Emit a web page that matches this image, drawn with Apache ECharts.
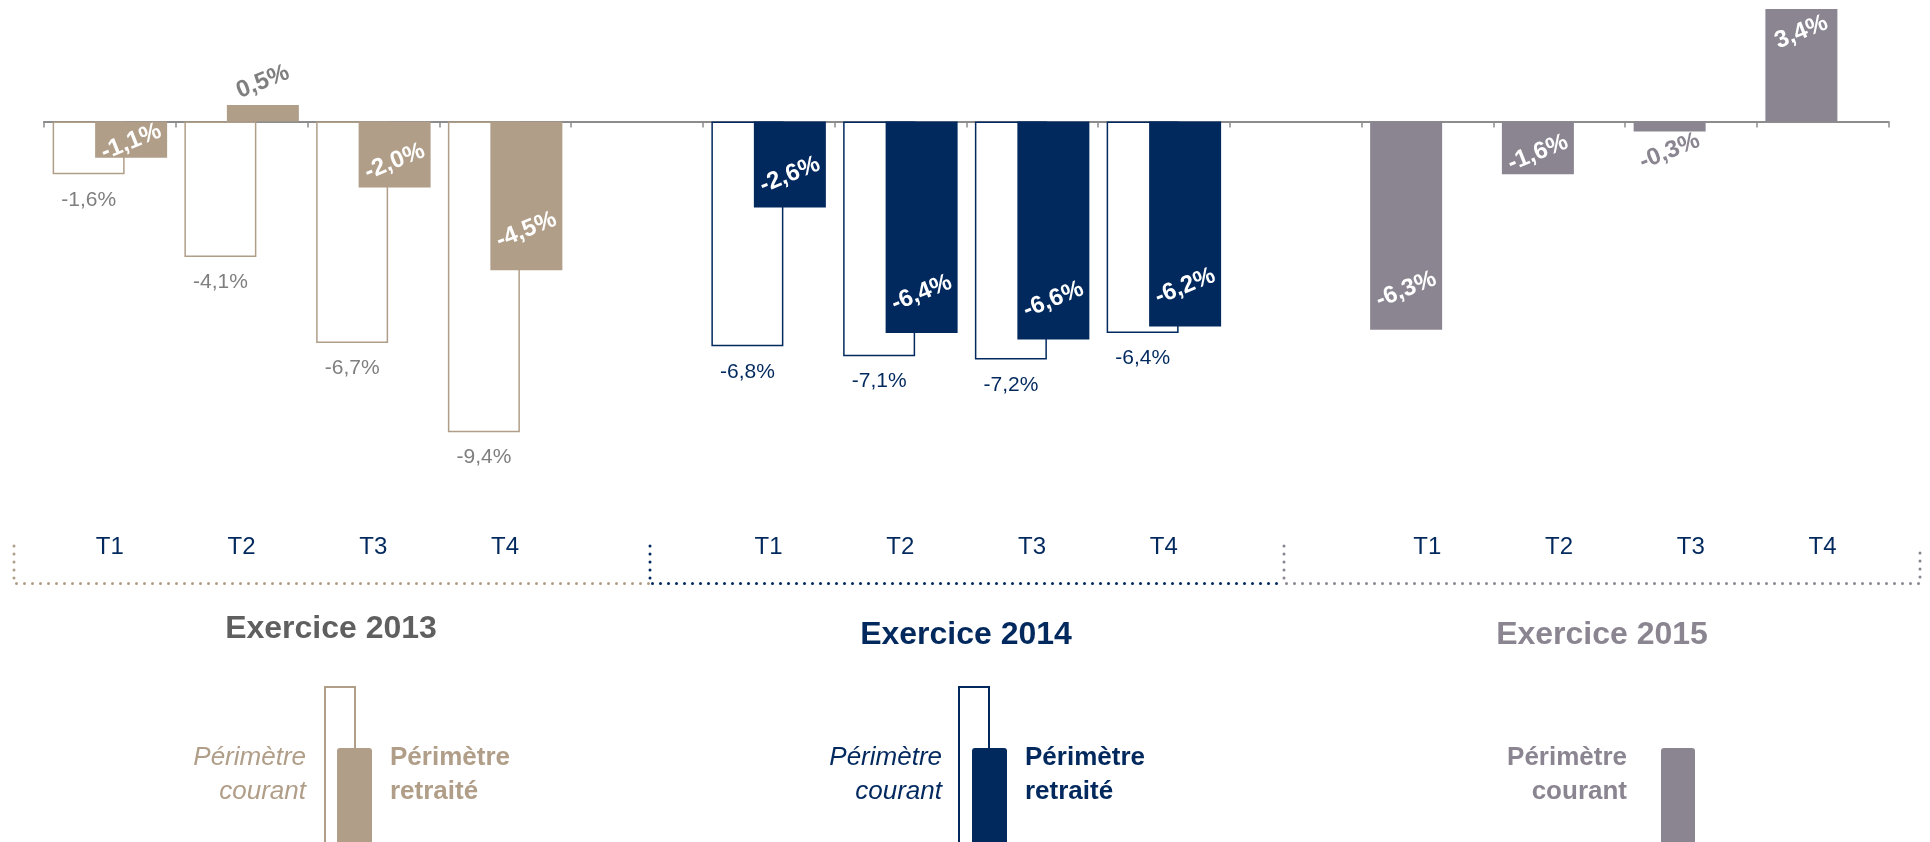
<!DOCTYPE html>
<html>
<head>
<meta charset="utf-8">
<script src="https://cdn.jsdelivr.net/npm/echarts@6/dist/echarts.min.js"></script>
<style>
html,body{margin:0;padding:0;background:#ffffff;}
#chart{width:1930px;height:842px;}
</style>
</head>
<body>
<div id="chart"></div>
<script>
// ---------- data ----------
const categories = ['T1', 'T2', 'T3', 'T4', '', 'T1', 'T2', 'T3', 'T4', '', 'T1', 'T2', 'T3', 'T4'];
const groupTitles = ['Exercice 2013', 'Exercice 2014', 'Exercice 2015'];
const courant2013 = [-1.6, -4.1, -6.7, -9.4];
const retraite2013 = [-1.1, 0.5, -2.0, -4.5];
const courant2014 = [-6.8, -7.1, -7.2, -6.4];
const retraite2014 = [-2.6, -6.4, -6.6, -6.2];
const courant2015 = [-6.3, -1.6, -0.3, 3.4];
const legendCourant = 'Périmètre courant';
const legendRetraite = 'Périmètre retraité';

// ---------- style ----------
const FONT = "'Liberation Sans', Arial, sans-serif";
const TAN = '#B09E88';
const NAVY = '#02295E';
const MAUVE = '#8B8591';
const groupColors = [TAN, NAVY, MAUVE];
const hollowLabelColors = ['#7F7F7F', NAVY, MAUVE];
const outsideLabelColors = ['#7F7F7F', NAVY, MAUVE];
const titleColors = ['#5F5F5F', NAVY, MAUVE];

const fmt = v => v.toFixed(1).replace('.', ',') + '%';

function filledLabel(v, g) {
  const small = Math.abs(v) < 1;
  let position, distance;
  if (small) {
    position = v < 0 ? 'bottom' : 'top';
    distance = v < 0 ? 20 : 23;
  } else {
    position = v < 0 ? 'insideBottom' : 'insideTop';
    distance = v < 0 ? Math.min(40, Math.abs(v) * 11 + 4) : 23;
  }
  return {
    show: true, position, distance,
    rotate: 22, align: 'center', verticalAlign: 'middle',
    color: small ? outsideLabelColors[g] : '#ffffff',
    fontFamily: FONT, fontWeight: 'bold', fontSize: 24,
    formatter: () => fmt(v)
  };
}
function filledItem(v, g) {
  return { value: v, itemStyle: { color: groupColors[g] }, label: filledLabel(v, g) };
}
function hollowItem(v, g) {
  return {
    value: v,
    itemStyle: { color: '#ffffff', borderColor: groupColors[g], borderWidth: 1.5 },
    label: {
      show: true, position: v < 0 ? 'bottom' : 'top', distance: 15,
      color: hollowLabelColors[g], fontFamily: FONT, fontSize: 21,
      formatter: () => fmt(v)
    }
  };
}

const courantData = [
  ...courant2013.map(v => hollowItem(v, 0)), null,
  ...courant2014.map(v => hollowItem(v, 1)), null,
  ...courant2015.map(v => filledItem(v, 2))
];
const retraiteData = [
  ...retraite2013.map(v => filledItem(v, 0)), null,
  ...retraite2014.map(v => filledItem(v, 1)), null,
  null, null, null, null
];

// ---------- decorations (brackets, titles, legends) ----------
const bracketX = [14, 650, 1284, 1920];
const bracketTop = 546, bracketY = 583.5;
const graphics = [];
for (let g = 0; g < 3; g++) {
  const pts = [[bracketX[g], bracketTop], [bracketX[g], bracketY], [bracketX[g + 1], bracketY]];
  if (g === 2) pts.push([bracketX[3], bracketTop]);
  graphics.push({
    type: 'polyline', z: 10 - g, silent: true,
    shape: { points: pts },
    style: { stroke: groupColors[g], lineWidth: 3, lineDash: [0, 8], lineCap: 'round', fill: null }
  });
}
const titlePos = [[331, 629], [966, 635], [1602, 635]];
groupTitles.forEach((t, g) => {
  graphics.push({
    type: 'text', x: titlePos[g][0], y: titlePos[g][1], silent: true,
    style: { text: t, fill: titleColors[g], font: 'bold 32px ' + FONT, textAlign: 'center', textVerticalAlign: 'middle' }
  });
});
const [cWord1, cWord2] = legendCourant.split(' ');
const [rWord1, rWord2] = legendRetraite.split(' ');
const line1 = 758, line2 = 792;
function legendText(x, words, align, color, fontStyle) {
  words.forEach((w, i) => {
    graphics.push({
      type: 'text', x, y: i === 0 ? line1 : line2, silent: true,
      style: { text: w, fill: color, font: fontStyle + ' 26px ' + FONT, textAlign: align, textVerticalAlign: 'middle' }
    });
  });
}
// 2013 & 2014 legends: hollow + filled
const legendX = [{ hollow: 325, filled: 337, left: 306, right: 390 }, { hollow: 959, filled: 972, left: 942, right: 1025 }];
legendX.forEach((p, g) => {
  graphics.push({ type: 'rect', silent: true, shape: { x: p.hollow, y: 687, width: 30, height: 200 },
    style: { fill: '#ffffff', stroke: groupColors[g], lineWidth: 2 } });
  graphics.push({ type: 'rect', silent: true, shape: { x: p.filled, y: 748, width: 35, height: 200, r: [3, 3, 0, 0] },
    style: { fill: groupColors[g] } });
  legendText(p.left, [cWord1, cWord2], 'right', groupColors[g], 'italic');
  legendText(p.right, [rWord1, rWord2], 'left', groupColors[g], 'bold');
});
// 2015 legend: filled only
graphics.push({ type: 'rect', silent: true, shape: { x: 1661, y: 748, width: 34, height: 200, r: [3, 3, 0, 0] },
  style: { fill: MAUVE } });
legendText(1627, [cWord1, cWord2], 'right', MAUVE, 'bold');

// ---------- chart ----------
const chart = echarts.init(document.getElementById('chart'), null, { renderer: 'canvas' });
chart.setOption({
  animation: false,
  backgroundColor: '#ffffff',
  grid: { left: 44, right: 41.5, top: 5.8, height: 446.2, containLabel: false, outerBoundsMode: 'none' },
  xAxis: [
    {
      type: 'category',
      data: categories,
      boundaryGap: true,
      axisLine: { show: true, onZero: true, lineStyle: { color: '#8C8C8C', width: 2 } },
      axisTick: { show: true, length: 6, lineStyle: { color: '#8C8C8C', width: 1.5 } },
      axisLabel: { show: false },
      splitLine: { show: false }
    },
    {
      type: 'category',
      data: categories,
      position: 'bottom',
      boundaryGap: true,
      axisLine: { show: false, onZero: false },
      axisTick: { show: false },
      axisLabel: { show: true, margin: 83, color: NAVY, fontSize: 24, fontFamily: FONT, interval: 0 },
      splitLine: { show: false }
    }
  ],
  yAxis: { type: 'value', min: -10, max: 3.5, show: false },
  series: [
    { name: legendCourant, type: 'bar', data: courantData, barWidth: 72, barGap: '-41%', silent: true },
    { name: legendRetraite, type: 'bar', data: retraiteData, barWidth: 72, barGap: '-41%', silent: true }
  ],
  graphic: graphics
});
</script>
</body>
</html>
